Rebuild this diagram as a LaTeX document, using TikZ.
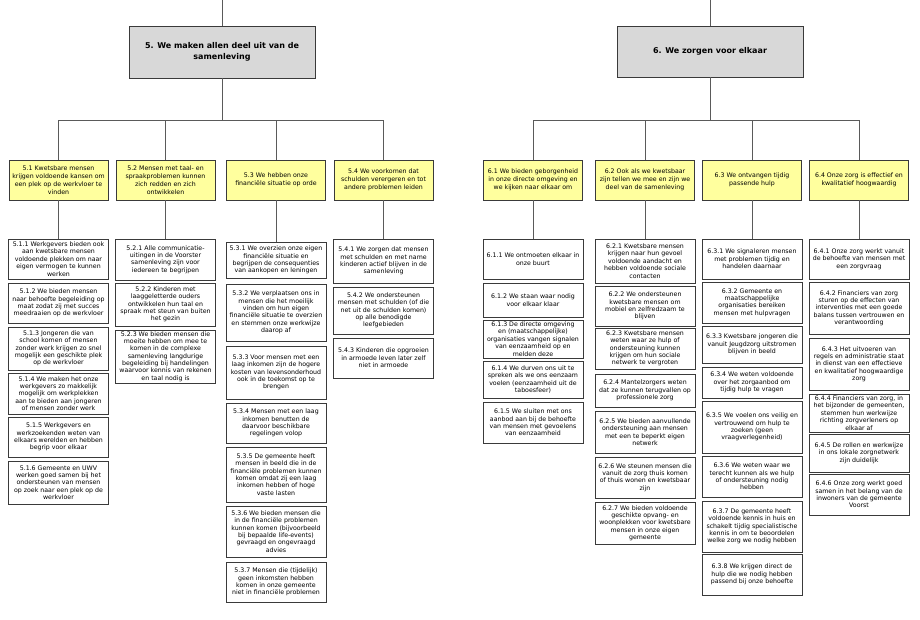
\documentclass[tikz,border=0pt]{standalone}
\usepackage{fontspec}
\setmainfont{DejaVu Sans}
\definecolor{hdrfill}{HTML}{D8D8D8}
\definecolor{goalfill}{HTML}{FFFF9E}
\definecolor{edge}{HTML}{3A3A3A}
\definecolor{wire}{HTML}{5A5A5A}
\tikzset{
  hdr/.style={draw=edge, line width=0.9pt, fill=hdrfill, minimum width=186pt, minimum height=52pt, align=center, inner sep=1pt, font=\fontsize{8}{11.5}\selectfont\bfseries},
  goal/.style={draw=edge, line width=0.8pt, fill=goalfill, minimum width=99pt, minimum height=40pt, align=center, inner sep=0.5pt, font=\fontsize{6.25}{7.9}\selectfont},
  sub/.style={draw=edge, line width=0.8pt, fill=white, minimum width=100pt, align=center, inner sep=0.3pt, font=\fontsize{6.25}{7.35}\selectfont},
  conn/.style={draw=wire, line width=0.8pt}
}
\begin{document}
\begin{tikzpicture}[x=1pt,y=-1pt]
\useasboundingbox (0,0) rectangle (920,620);
\fill[white] (0,0) rectangle (920,620);

% headers
\node[hdr] (h5) at (222,52) {5. We maken allen deel uit van de\\samenleving};
\node[hdr, minimum height=51pt] (h6) at (710,51.5) {6. We zorgen voor elkaar};
\coordinate (t5) at (222,0);
\coordinate (t6) at (710,0);
\coordinate (b5) at (222,120);
\coordinate (b6) at (710,120);

% level 2
\node[goal] (g51) at (58.5,180) {5.1 Kwetsbare mensen\\krijgen voldoende kansen om\\een plek op de werkvloer te\\vinden};
\node[goal] (g52) at (165.5,180) {5.2 Mensen met taal- en\\spraakproblemen kunnen\\zich redden en zich\\ontwikkelen};
\node[goal] (g53) at (276,180) {5.3 We hebben onze\\financiële situatie op orde};
\node[goal] (g54) at (383.5,180) {5.4 We voorkomen dat\\schulden verergeren en tot\\andere problemen leiden};
\node[goal] (g61) at (533,180) {6.1 We bieden geborgenheid\\in onze directe omgeving en\\we kijken naar elkaar om};
\node[goal] (g62) at (645,180) {6.2 Ook als we kwetsbaar\\zijn tellen we mee en zijn we\\deel van de samenleving};
\node[goal] (g63) at (752,180) {6.3 We ontvangen tijdig\\passende hulp};
\node[goal] (g64) at (859,180) {6.4 Onze zorg is effectief en\\kwalitatief hoogwaardig};

% column 5.1
\node[sub, minimum height=40pt] (n511) at (58.5,259) {5.1.1 Werkgevers bieden ook\\aan kwetsbare mensen\\voldoende plekken om naar\\eigen vermogen te kunnen\\werken};
\node[sub, minimum height=40pt] (n512) at (58.5,303) {5.1.2 We bieden mensen\\naar behoefte begeleiding op\\maat zodat zij met succes\\meedraaien op de werkvloer};
\node[sub, minimum height=43pt] (n513) at (58.5,348.5) {5.1.3 Jongeren die van\\school komen of mensen\\zonder werk krijgen zo snel\\mogelijk een geschikte plek\\op de werkvloer};
\node[sub, minimum height=41pt] (n514) at (58.5,393.5) {5.1.4 We maken het onze\\werkgevers zo makkelijk\\mogelijk om werkplekken\\aan te bieden aan jongeren\\of mensen zonder werk};
\node[sub, minimum height=40pt] (n515) at (58.5,437) {5.1.5 Werkgevers en\\werkzoekenden weten van\\elkaars werelden en hebben\\begrip voor elkaar};
\node[sub, minimum height=43pt] (n516) at (58.5,482.5) {5.1.6 Gemeente en UWV\\werken goed samen bij het\\ondersteunen van mensen\\op zoek naar een plek op de\\werkvloer};

% column 5.2
\node[sub, minimum height=41pt] (n521) at (165.5,259.5) {5.2.1 Alle communicatie-\\uitingen in de Voorster\\samenleving zijn voor\\iedereen te begrijpen};
\node[sub, minimum height=43pt] (n522) at (165.5,304.5) {5.2.2 Kinderen met\\laaggeletterde ouders\\ontwikkelen hun taal en\\spraak met steun van buiten\\het gezin};
\node[sub, minimum height=53pt] (n523) at (165.5,356.5) {5.2.3 We bieden mensen die\\moeite hebben om mee te\\komen in de complexe\\samenleving langdurige\\begeleiding bij handelingen\\waarvoor kennis van rekenen\\en taal nodig is};

% column 5.3
\node[sub, minimum height=36pt] (n531) at (276,260) {5.3.1 We overzien onze eigen\\financiële situatie en\\begrijpen de consequenties\\van aankopen en leningen};
\node[sub, minimum height=57pt] (n532) at (276,312.5) {5.3.2 We verplaatsen ons in\\mensen die het moeilijk\\vinden om hun eigen\\financiële situatie te overzien\\en stemmen onze werkwijze\\daarop af};
\node[sub, minimum height=53pt] (n533) at (276,372.5) {5.3.3 Voor mensen met een\\laag inkomen zijn de hogere\\kosten van levensonderhoud\\ook in de toekomst op te\\brengen};
\node[sub, minimum height=40pt] (n534) at (276,423) {5.3.4 Mensen met een laag\\inkomen benutten de\\daarvoor beschikbare\\regelingen volop};
\node[sub, minimum height=55pt] (n535) at (276,474.5) {5.3.5 De gemeente heeft\\mensen in beeld die in de\\financiële problemen kunnen\\komen omdat zij een laag\\inkomen hebben of hoge\\vaste lasten};
\node[sub, minimum height=51pt] (n536) at (276,531.5) {5.3.6 We bieden mensen die\\in de financiële problemen\\kunnen komen (bijvoorbeeld\\bij bepaalde life-events)\\gevraagd en ongevraagd\\advies};
\node[sub, minimum height=40pt] (n537) at (276,582) {5.3.7 Mensen die (tijdelijk)\\geen inkomsten hebben\\komen in onze gemeente\\niet in financiële problemen};

% column 5.4
\node[sub, minimum height=44pt] (n541) at (383.5,261) {5.4.1 We zorgen dat mensen\\met schulden en met name\\kinderen actief blijven in de\\samenleving};
\node[sub, minimum height=47pt] (n542) at (383.5,310.5) {5.4.2 We ondersteunen\\mensen met schulden (of die\\net uit de schulden komen)\\op alle benodigde\\leefgebieden};
\node[sub, minimum height=40pt] (n543) at (383.5,358) {5.4.3 Kinderen die opgroeien\\in armoede leven later zelf\\niet in armoede};

% column 6.1
\node[sub, minimum height=40pt] (n611) at (533,259) {6.1.1 We ontmoeten elkaar in\\onze buurt};
\node[sub, minimum height=34pt] (n612) at (533,300) {6.1.2 We staan waar nodig\\voor elkaar klaar};
\node[sub, minimum height=38pt] (n613) at (533,339) {6.1.3 De directe omgeving\\en (maatschappelijke)\\organisaties vangen signalen\\van eenzaamheid op en\\melden deze};
\node[sub, minimum height=37pt] (n614) at (533,379.5) {6.1.4 We durven ons uit te\\spreken als we ons eenzaam\\voelen (eenzaamheid uit de\\taboesfeer)};
\node[sub, minimum height=41pt] (n615) at (533,422.5) {6.1.5 We sluiten met ons\\aanbod aan bij de behoefte\\van mensen met gevoelens\\van eenzaamheid};

% column 6.2
\node[sub, minimum height=44pt] (n621) at (645,261) {6.2.1 Kwetsbare mensen\\krijgen naar hun gevoel\\voldoende aandacht en\\hebben voldoende sociale\\contacten};
\node[sub, minimum height=40pt] (n622) at (645,306) {6.2.2 We ondersteunen\\kwetsbare mensen om\\mobiel en zelfredzaam te\\blijven};
\node[sub, minimum height=41pt] (n623) at (645,348.5) {6.2.3 Kwetsbare mensen\\weten waar ze hulp of\\ondersteuning kunnen\\krijgen om hun sociale\\netwerk te vergroten};
\node[sub, minimum height=33pt] (n624) at (645,390.5) {6.2.4 Mantelzorgers weten\\dat ze kunnen terugvallen op\\professionele zorg};
\node[sub, minimum height=42pt] (n625) at (645,432) {6.2.5 We bieden aanvullende\\ondersteuning aan mensen\\met een te beperkt eigen\\netwerk};
\node[sub, minimum height=41pt] (n626) at (645,477.5) {6.2.6 We steunen mensen die\\vanuit de zorg thuis komen\\of thuis wonen en kwetsbaar\\zijn};
\node[sub, minimum height=42pt] (n627) at (645,523) {6.2.7 We bieden voldoende\\geschikte opvang- en\\woonplekken voor kwetsbare\\mensen in onze eigen\\gemeente};

% column 6.3
\node[sub, minimum height=40pt] (n631) at (752,259) {6.3.1 We signaleren mensen\\met problemen tijdig en\\handelen daarnaar};
\node[sub, minimum height=41pt] (n632) at (752,302.5) {6.3.2 Gemeente en\\maatschappelijke\\organisaties bereiken\\mensen met hulpvragen};
\node[sub, minimum height=37pt] (n633) at (752,344.5) {6.3.3 Kwetsbare jongeren die\\vanuit Jeugdzorg uitstromen\\blijven in beeld};
\node[sub, minimum height=31pt] (n634) at (752,382.5) {6.3.4 We weten voldoende\\over het zorgaanbod om\\tijdig hulp te vragen};
\node[sub, minimum height=52pt] (n635) at (752,427) {6.3.5 We voelen ons veilig en\\vertrouwend om hulp te\\zoeken (geen\\vraagverlegenheid)};
\node[sub, minimum height=41pt] (n636) at (752,476.5) {6.3.6 We weten waar we\\terecht kunnen als we hulp\\of ondersteuning nodig\\hebben};
\node[sub, minimum height=51pt] (n637) at (752,526.5) {6.3.7 De gemeente heeft\\voldoende kennis in huis en\\schakelt tijdig specialistische\\kennis in om te beoordelen\\welke zorg we nodig hebben};
\node[sub, minimum height=41pt] (n638) at (752,574.5) {6.3.8 We krijgen direct de\\hulp die we nodig hebben\\passend bij onze behoefte};

% column 6.4
\node[sub, minimum height=40pt] (n641) at (859,259) {6.4.1 Onze zorg werkt vanuit\\de behoefte van mensen met\\een zorgvraag};
\node[sub, minimum height=52pt] (n642) at (859,308) {6.4.2 Financiers van zorg\\sturen op de effecten van\\interventies met een goede\\balans tussen vertrouwen en\\verantwoording};
\node[sub, minimum height=52pt] (n643) at (859,364) {6.4.3 Het uitvoeren van\\regels en administratie staat\\in dienst van een effectieve\\en kwalitatief hoogwaardige\\zorg};
\node[sub, minimum height=38pt] (n644) at (859,413) {6.4.4 Financiers van zorg, in\\het bijzonder de gemeenten,\\stemmen hun werkwijze\\richting zorgverleners op\\elkaar af};
\node[sub, minimum height=38pt] (n645) at (859,453) {6.4.5 De rollen en werkwijze\\in ons lokale zorgnetwerk\\zijn duidelijk};
\node[sub, minimum height=41pt] (n646) at (859,494.5) {6.4.6 Onze zorg werkt goed\\samen in het belang van de\\inwoners van de gemeente\\Voorst};

% connectors
\draw[conn] (t5) -- (h5.north);
\draw[conn] (t6) -- (h6.north);
\draw[conn] (h5.south) -- (b5);
\draw[conn] (h6.south) -- (b6);
\foreach \g in {g51,g52,g53,g54} \draw[conn] (b5) -| (\g.north);
\foreach \g in {g61,g62,g63,g64} \draw[conn] (b6) -| (\g.north);
\draw[conn] (g51.south) -- (n511.north);
\draw[conn] (g52.south) -- (n521.north);
\draw[conn] (g53.south) -- (n531.north);
\draw[conn] (g54.south) -- (n541.north);
\draw[conn] (g61.south) -- (n611.north);
\draw[conn] (g62.south) -- (n621.north);
\draw[conn] (g63.south) -- (n631.north);
\draw[conn] (g64.south) -- (n641.north);
\end{tikzpicture}
\end{document}
